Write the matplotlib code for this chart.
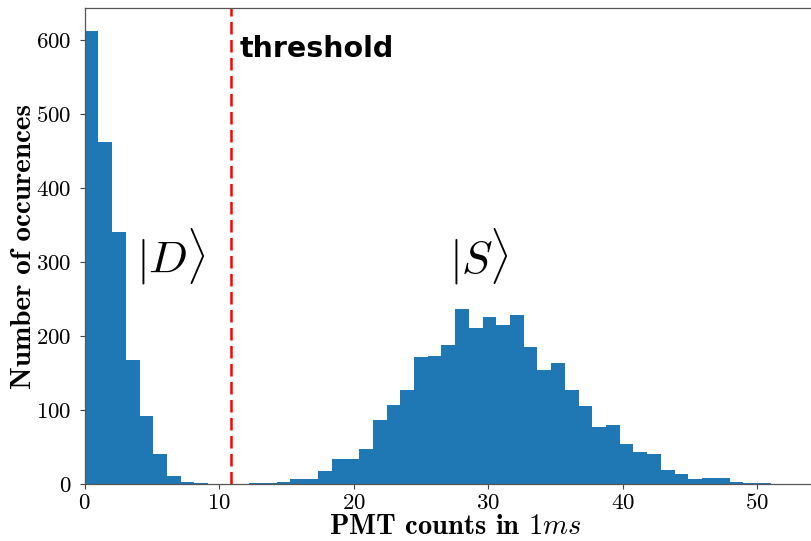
import numpy as np
import matplotlib
matplotlib.use("Agg")
import matplotlib.pyplot as plt

# histogram of PMT counts, 50 bins over 0..51
bin_lo:float = 0.0
bin_hi:float = 51.0
counts:list = [
	612, 462, 341, 168, 92, 40, 11, 2, 1, 0,     # |D>
	0, 0, 1, 1, 3, 7, 7, 18, 34, 34,
	47, 87, 107, 127, 171, 173, 188, 237, 211, 226,
	215, 228, 185, 154, 163, 127, 105, 77, 80, 54,
	43, 41, 19, 14, 7, 8, 8, 2, 1, 1,
]
threshold:float = 10.85
threshold_label:str = "threshold"
state_labels:list = [r"$|D\rangle$", r"$|S\rangle$"]
state_pos:list = [(6.4, 307), (29.3, 307)]

plt.rcParams["mathtext.fontset"] = "cm"
plt.rcParams["axes.formatter.use_mathtext"] = True

edges = np.linspace(bin_lo, bin_hi, len(counts) + 1)

fig = plt.figure(figsize=(8.12, 5.41), dpi=100)
ax = fig.add_axes([0.1043, 0.1054, 0.9000, 0.8793])

ax.hist(edges[:-1], bins=edges, weights=counts, color="#1f77b4")
ax.axvline(threshold, color="red", lw=1.8, linestyle=(0, (5, 2.2)))
ax.text(11.55, 577, threshold_label, fontsize=20.5, fontweight="bold",
	family="DejaVu Sans", va="baseline", ha="left")
for lab, (x, y) in zip(state_labels, state_pos):
	ax.text(x, y, lab, fontsize=33, ha="center", va="center")

ax.set_xlim(0, 54.33)
ax.set_ylim(0, 643)
ax.set_xticks([0, 10, 20, 30, 40, 50])
ax.set_yticks([0, 100, 200, 300, 400, 500, 600])
for lab in ax.get_xticklabels() + ax.get_yticklabels():
	lab.set_family("cmr10")
	lab.set_fontsize(16.5)
ax.tick_params(length=3.5, width=0.8, color="#444444")
ax.tick_params(axis="x", pad=3)
ax.tick_params(axis="y", pad=6)
for s in ax.spines.values():
	s.set_color("#555555")
	s.set_linewidth(0.9)
ax.spines["right"].set_visible(False)

ax.set_xlabel("PMT counts in $1ms$", family="cmb10", fontsize=20.5, va="center")
ax.set_ylabel("Number of occurences", family="cmb10", fontsize=21, va="center")
axw = 0.9 * 812
axh = 0.8793 * 541
ax.xaxis.set_label_coords((455 - 84.7) / axw, (484 - 527) / axh)
ax.yaxis.set_label_coords((24 - 84.7) / axw, 0.5)

fig.savefig("out.png", dpi=100)
